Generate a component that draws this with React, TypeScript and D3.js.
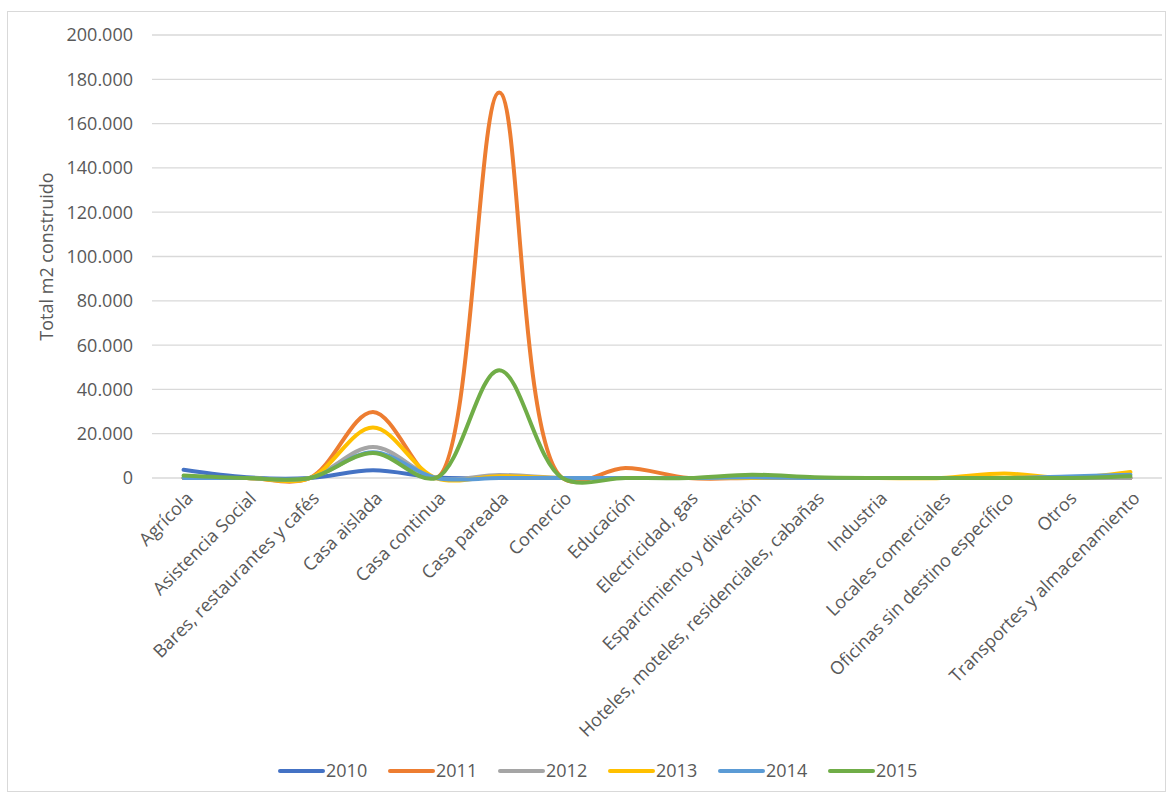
import React from "react";
import * as d3 from "d3";

// Building categories (x axis)
const categories = [
  "Agrícola",
  "Asistencia Social",
  "Bares, restaurantes y cafés",
  "Casa aislada",
  "Casa continua",
  "Casa pareada",
  "Comercio",
  "Educación",
  "Electricidad, gas",
  "Esparcimiento y diversión",
  "Hoteles, moteles, residenciales, cabañas",
  "Industria",
  "Locales comerciales",
  "Oficinas sin destino específico",
  "Otros",
  "Transportes y almacenamiento",
];

// Total m2 built per category, one array per year
const y2010 = [3700, 300, 0, 3500, 200, 0, 0, 0, 0, 0, 0, 0, 0, 0, 0, 0];
const y2011 = [0, 0, 0, 29800, 0, 174000, 0, 4500, 0, 0, 0, 0, 0, 0, 0, 0];
const y2012 = [0, 0, 0, 14000, 0, 1400, 0, 0, 0, 0, 0, 0, 0, 0, 0, 0];
const y2013 = [0, 0, 0, 22800, 0, 800, 0, 0, 0, 0, 0, 0, 0, 2000, 0, 2700];
const y2014 = [0, 0, 0, 11600, 0, 0, 0, 0, 0, 300, 0, 0, 0, 0, 700, 1500];
const y2015 = [1100, 0, 0, 11300, 0, 48700, 0, 0, 0, 1500, 300, 0, 0, 0, 0, 800];

const seriesNames = ["2010", "2011", "2012", "2013", "2014", "2015"];
const seriesValues = [y2010, y2011, y2012, y2013, y2014, y2015];
const seriesColors = ["#4472C4", "#ED7D31", "#A5A5A5", "#FFC000", "#5B9BD5", "#70AD47"];

const yTicks = [0, 20000, 40000, 60000, 80000, 100000, 120000, 140000, 160000, 180000, 200000];

const W = 1169;
const H = 796;
const FONT = "'Open Sans', sans-serif";
const TEXT = "#595959";
const FS = 18;

const plot = { left: 152, right: 1162, top: 35, bottom: 478 };

const fmt = (v: number) =>
  v === 0 ? "0" : d3.format(",")(v).replace(/,/g, ".");

export default function App() {
  const x = d3
    .scaleBand<string>()
    .domain(categories)
    .range([plot.left, plot.right]);
  const y = d3.scaleLinear().domain([0, 200000]).range([plot.bottom, plot.top]);

  const cx = (c: string) => (x(c) as number) + x.bandwidth() / 2;

  // smoothed lines, centripetal Catmull-Rom keeps overshoot small
  const line = d3
    .line<number>()
    .x((_, i) => cx(categories[i]))
    .y((d) => y(d))
    .curve(d3.curveCatmullRom.alpha(0.5));

  const legendX0 = 280;
  const legendStep = 110;
  const legendY = 771;

  return (
    <svg
      width={W}
      height={H}
      style={{ position: "absolute", left: 0, top: 0, background: "#fff" }}
      fontFamily={FONT}
    >
      <rect x={7.5} y={11.5} width={1158} height={780} fill="#fff" stroke="#D9D9D9" />

      {/* gridlines and y tick labels */}
      {yTicks.map((t) => (
        <g key={t}>
          <line
            x1={plot.left}
            x2={plot.right}
            y1={y(t)}
            y2={y(t)}
            stroke="#D9D9D9"
            strokeWidth={1.3}
          />
          <text
            x={133}
            y={y(t)}
            dy="0.36em"
            textAnchor="end"
            fontSize={FS}
            fill={TEXT}
          >
            {fmt(t)}
          </text>
        </g>
      ))}

      {/* y axis title */}
      <text
        transform={`translate(53, ${(plot.top + plot.bottom) / 2}) rotate(-90)`}
        textAnchor="middle"
        fontSize={FS}
        fill={TEXT}
      >
        Total m2 construido
      </text>

      {/* category labels */}
      {categories.map((c) => (
        <text
          key={c}
          transform={`translate(${cx(c) + 6}, ${plot.bottom + 17}) rotate(-45)`}
          textAnchor="end"
          fontSize={FS}
          fill={TEXT}
          dy="0.35em"
        >
          {c}
        </text>
      ))}

      {/* series lines */}
      {seriesValues.map((vals, i) => (
        <path
          key={seriesNames[i]}
          d={line(vals) || ""}
          fill="none"
          stroke={seriesColors[i]}
          strokeWidth={4}
          strokeLinecap="round"
          strokeLinejoin="round"
        />
      ))}

      {/* legend */}
      {seriesNames.map((n, i) => {
        const lx = legendX0 + i * legendStep;
        return (
          <g key={n}>
            <line
              x1={lx}
              x2={lx + 43}
              y1={legendY}
              y2={legendY}
              stroke={seriesColors[i]}
              strokeWidth={4}
              strokeLinecap="round"
            />
            <text x={lx + 46} y={legendY} dy="0.36em" fontSize={FS} fill={TEXT}>
              {n}
            </text>
          </g>
        );
      })}
    </svg>
  );
}
